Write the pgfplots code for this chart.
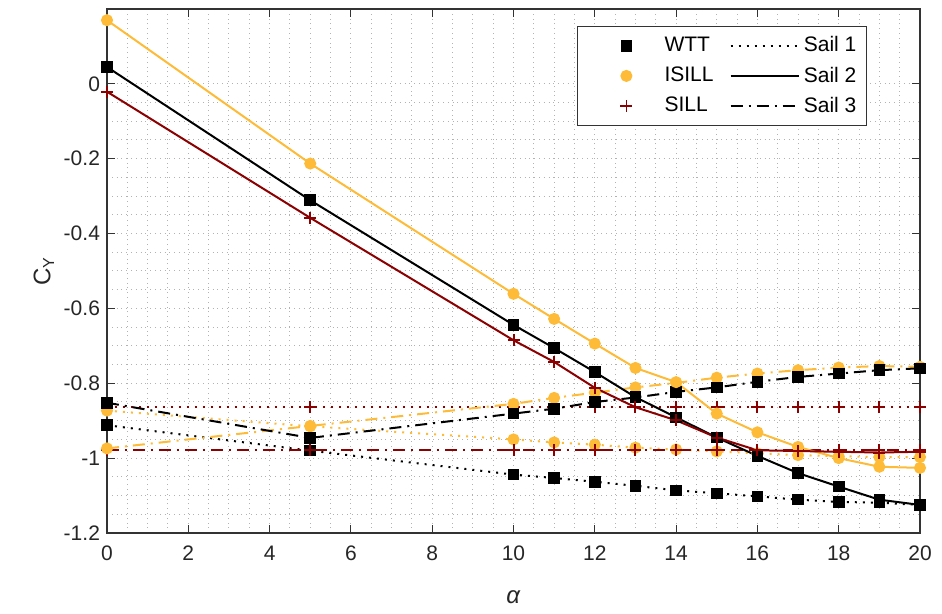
\documentclass[border=0pt]{standalone}
\usepackage{pgfplots}
\usepackage{pgfplotstable}
\pgfplotsset{compat=1.18}
\usepackage{fontspec}
\setmainfont{Liberation Sans}
\definecolor{isill}{RGB}{253,187,55}
\definecolor{sill}{RGB}{139,0,0}
\pgfplotsset{markleg/.style={legend image code/.code={\path[draw=none] (-4.5pt,0cm) -- (1.2cm,0cm);
  \draw[##1,only marks] plot coordinates {(0.6cm,0cm)};}}}

\pgfplotstableread{
x wtta wttb wttc isa isb isc sia sib sic
0 -0.912 0.045 -0.852 -0.873 0.170 -0.974 -0.864 -0.021 -0.979
5 -0.980 -0.311 -0.946 -0.915 -0.213 -0.914 -0.864 -0.358 -0.979
10 -1.044 -0.644 -0.881 -0.950 -0.561 -0.855 -0.864 -0.685 -0.979
11 -1.053 -0.706 -0.868 -0.958 -0.628 -0.839 -0.864 -0.743 -0.979
12 -1.063 -0.770 -0.850 -0.964 -0.694 -0.825 -0.864 -0.812 -0.979
13 -1.074 -0.837 -0.838 -0.972 -0.759 -0.811 -0.864 -0.864 -0.979
14 -1.086 -0.891 -0.823 -0.977 -0.797 -0.799 -0.864 -0.899 -0.979
15 -1.094 -0.945 -0.811 -0.982 -0.881 -0.785 -0.864 -0.945 -0.979
16 -1.102 -0.994 -0.796 -0.987 -0.931 -0.774 -0.864 -0.979 -0.979
17 -1.111 -1.040 -0.783 -0.992 -0.970 -0.765 -0.864 -0.981 -0.979
18 -1.117 -1.076 -0.774 -0.995 -1.000 -0.758 -0.864 -0.983 -0.979
19 -1.119 -1.111 -0.765 -0.997 -1.023 -0.754 -0.864 -0.985 -0.979
20 -1.125 -1.125 -0.760 -0.997 -1.026 -0.756 -0.864 -0.983 -0.979
}\cy

\begin{document}
\begin{tikzpicture}
\begin{axis}[
 scale only axis,width=406.5pt,height=262pt,
 xmin=0,xmax=20,ymin=-1.2,ymax=0.2,
 xtick={0,2,...,20},ytick={-1.2,-1,-0.8,-0.6,-0.4,-0.2,0},
 yticklabels={-1.2,-1,-0.8,-0.6,-0.4,-0.2,0},
 minor x tick num=3,minor y tick num=3,
 grid=both,
 major grid style={gray!60,dotted,line width=0.5pt},
 minor grid style={gray!60,dotted,line width=0.5pt},
 tick align=inside,major tick length=4pt,minor tick length=0pt,
 axis line style={black!80,line width=0.6pt},
 tick style={black!80,line width=0.6pt},
 /pgf/number format/assume math mode=true,
 tick label style={font=\fontsize{10.5}{12}\selectfont,black!85},
 xticklabel style={yshift=-3pt},
 xlabel={\textit{α}},ylabel={C\textsubscript{Y}},
 label style={font=\fontsize{12}{14}\selectfont,black!85},
 xlabel style={yshift=-8pt},ylabel style={yshift=-2pt},
 legend columns=2,
 legend cell align=left,
 legend style={at={(1,1)},anchor=north east,xshift=-26.5pt,yshift=-8.5pt,
  font=\fontsize{10.5}{12}\selectfont,draw=black!80,line width=0.6pt,
  inner xsep=3pt,inner ysep=3pt,row sep=2pt,
  /tikz/every even column/.append style={column sep=6pt}},
 legend image code/.code={\draw[mark repeat=2,mark phase=2,#1]
  plot coordinates {(0cm,0cm)(0.6cm,0cm)(1.2cm,0cm)};},
 every axis plot/.append style={line width=1pt},
]
\addlegendimage{black,mark=square*,mark size=2.4pt,markleg}
\addlegendentry{WTT}
\addlegendimage{black,line width=1pt,dash pattern=on 1pt off 3pt}
\addlegendentry{Sail 1}
\addlegendimage{isill,mark=*,mark size=2.5pt,markleg}
\addlegendentry{ISILL}
\addlegendimage{black,line width=1pt}
\addlegendentry{Sail 2}
\addlegendimage{sill,mark=+,mark size=3pt,line width=0.8pt,markleg}
\addlegendentry{SILL}
\addlegendimage{black,line width=1pt,dash pattern=on 6pt off 3pt on 1pt off 3pt}
\addlegendentry{Sail 3}

% Sail 1 (dotted)
\addplot[forget plot,sill,dash pattern=on 1pt off 3pt,mark=+,mark size=3pt,mark options={solid}] table[x=x,y=sia]{\cy};
\addplot[forget plot,isill,dash pattern=on 1pt off 3pt,mark=*,mark size=2.5pt,mark options={solid}] table[x=x,y=isa]{\cy};
\addplot[forget plot,black,dash pattern=on 1pt off 3pt,mark=square*,mark size=2.4pt,mark options={solid}] table[x=x,y=wtta]{\cy};
% Sail 3 (dash-dot)
\addplot[forget plot,sill,dash pattern=on 6pt off 3pt on 1pt off 3pt,mark=+,mark size=3pt,mark options={solid}] table[x=x,y=sic]{\cy};
\addplot[forget plot,isill,dash pattern=on 6pt off 3pt on 1pt off 3pt,mark=*,mark size=2.5pt,mark options={solid}] table[x=x,y=isc]{\cy};
\addplot[forget plot,black,dash pattern=on 6pt off 3pt on 1pt off 3pt,mark=square*,mark size=2.4pt,mark options={solid}] table[x=x,y=wttc]{\cy};
% Sail 2 (solid)
\addplot[forget plot,isill,mark=*,mark size=2.5pt] table[x=x,y=isb]{\cy};
\addplot[forget plot,black,mark=square*,mark size=2.4pt] table[x=x,y=wttb]{\cy};
\addplot[forget plot,sill,mark=+,mark size=3pt] table[x=x,y=sib]{\cy};

\path (rel axis cs:0,0) ++(-53.5pt,-40.5pt) coordinate (bl);
\path (rel axis cs:1,1) ++(11pt,4.5pt) coordinate (tr);
\end{axis}
\path (bl) rectangle (tr);
\end{tikzpicture}
\end{document}
